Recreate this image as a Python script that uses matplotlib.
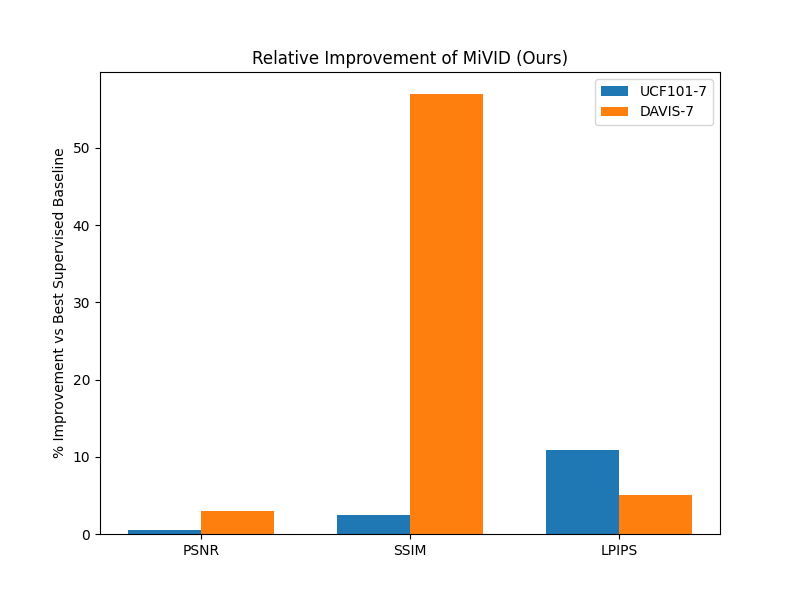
import matplotlib
matplotlib.use('Agg')
import matplotlib.pyplot as plt
import numpy as np

metrics = ['PSNR', 'SSIM', 'LPIPS']
ucf101 = [0.48, 2.42, 10.85]
davis = [2.94, 56.96, 5.01]

x = np.arange(len(metrics))
width = 0.35

fig, ax = plt.subplots(figsize=(8, 6), dpi=100)
ax.bar(x - width / 2, ucf101, width, label='UCF101-7')
ax.bar(x + width / 2, davis, width, label='DAVIS-7')

ax.set_xticks(x)
ax.set_xticklabels(metrics)
ax.set_ylabel('% Improvement vs Best Supervised Baseline')
ax.set_title('Relative Improvement of MiVID (Ours)')
ax.legend()

fig.savefig('out.png')
